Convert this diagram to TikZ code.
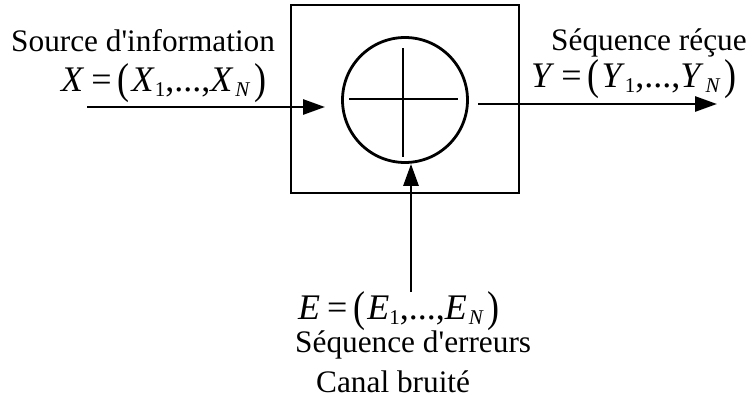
\documentclass[tikz,border=0pt]{standalone}
\usepackage{fontspec}
\setmainfont{Liberation Serif}
\usetikzlibrary{arrows.meta}
\newcommand\myit[1]{\textit{#1}}
\newcommand\mysub[1]{\raisebox{-5pt}{\fontsize{21}{21}\selectfont #1}}
\newcommand\lpar{\raisebox{-2pt}{\scalebox{1}[1.2]{(}}}
\newcommand\rpar{\raisebox{-2pt}{\scalebox{1}[1.2]{)}}}
\newcommand\seqlab[1]{\myit{#1}\hspace{7pt}=\hspace{6pt}\lpar\hspace{2pt}\myit{#1}\mysub{1},...,\myit{#1}\hspace{2pt}\mysub{\myit{N}}\hspace{4pt}\rpar}
\begin{document}
\begin{tikzpicture}[x=1pt,y=-1pt,
  lbl/.style={anchor=base west, inner sep=0pt, font=\fontsize{31.3}{37}\selectfont},
  mlbl/.style={anchor=base west, inner sep=0pt, font=\fontsize{36}{40}\selectfont},
  thick line/.style={line width=2.8pt},
  arr/.style={line width=2.8pt, -{Triangle[length=22pt,width=15pt]}}]
\useasboundingbox (0,0) rectangle (748,415);
\node[draw, thick line, minimum width=228pt, minimum height=188pt, inner sep=0pt] (box) at (405,99) {};
\node[draw, thick line, circle, minimum size=125pt, inner sep=0pt] (sum) at (405,100) {};
\coordinate (hl) at (349,99);
\coordinate (hr) at (458,99);
\coordinate (vt) at (403,48);
\coordinate (vb) at (403,157);
\draw[thick line] (hl) -- (hr);
\draw[thick line] (vt) -- (vb);
\coordinate (inl) at (87,107);
\coordinate (intip) at (325,107);
\draw[arr] (inl) -- (intip);
\coordinate (outl) at (478,104);
\coordinate (outtip) at (717,104);
\draw[arr] (outl) -- (outtip);
\coordinate (ebot) at (411,292);
\draw[arr] (ebot) -- (ebot |- sum.south);
\node[lbl] (src) at (11,52) {Source d\textquotesingle information};
\node[mlbl] (xlab) at (61,91) {\seqlab{X}};
\node[lbl] (out) at (551,50) {Séquence réçue};
\node[mlbl] (ylab) at (531,87) {\seqlab{Y}};
\node[mlbl] (elab) at (298,319) {\seqlab{E}};
\node[lbl] (err) at (295,352) {Séquence d\textquotesingle erreurs};
\node[lbl] (canal) at (316,392) {Canal bruité};
\end{tikzpicture}
\end{document}
